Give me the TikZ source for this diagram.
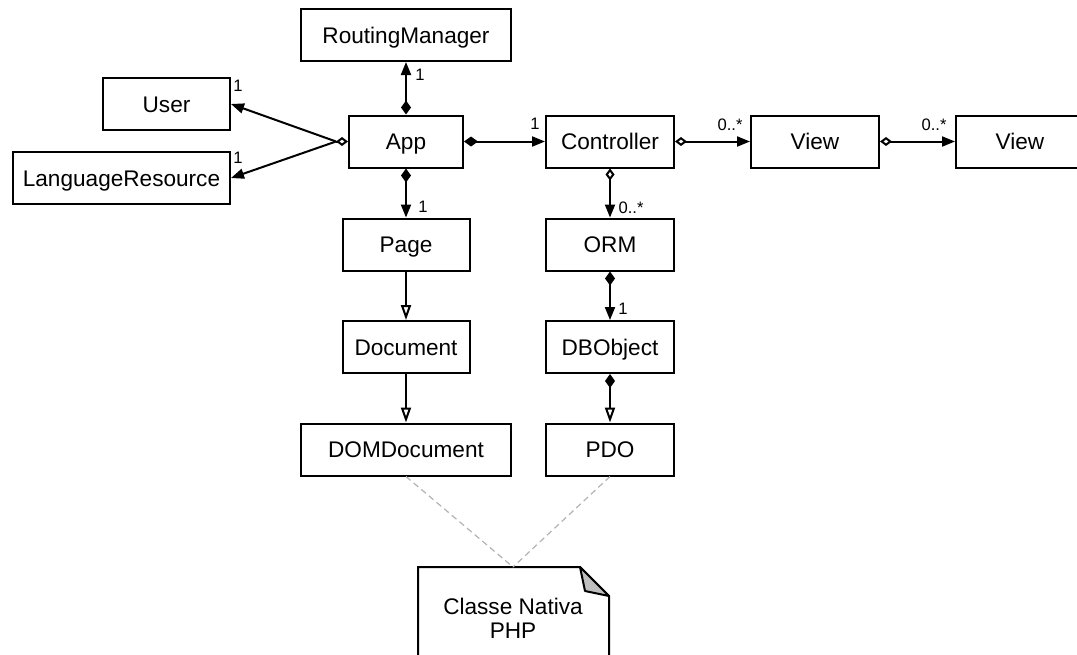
\documentclass[tikz,border=0pt]{standalone}
\usepackage{fontspec}
\setmainfont{Liberation Sans}
\usetikzlibrary{arrows.meta}

\begin{document}
\begin{tikzpicture}[
          x=0.5pt,y=-0.5pt,
          cls/.style={draw,line width=1pt,minimum height=26pt,inner sep=0pt,text height=8pt,text depth=0pt,font=\fontsize{11.3}{13}\selectfont},
          mult/.style={inner sep=0pt,font=\fontsize{8.3}{9}\selectfont},
          compo/.style={line width=1pt,{Diamond[length=7pt,width=5pt]}-{Triangle[length=6.5pt,width=5pt]}},
          aggr/.style={line width=1pt,{Diamond[open,length=6pt,width=4.5pt]}-{Triangle[length=6.5pt,width=5pt]}},
          assoc/.style={line width=1pt,-{Triangle[length=6.5pt,width=5pt]}},
          gener/.style={line width=1pt,-{Triangle[open,length=7.5pt,width=5pt]}},
          compgen/.style={line width=1pt,{Diamond[length=7pt,width=5pt]}-{Triangle[open,length=7.5pt,width=5pt]}},
          anchorline/.style={dashed,dash pattern=on 3pt off 2pt,draw=black!30,line width=0.6pt}
        ]
        \clip (0,0) rectangle (1077,654);
        \useasboundingbox (0,0) rectangle (1077,654);
        % classes
        \node[cls,minimum width=105pt] (routing) at (406,35) {RoutingManager};
        \node[cls,minimum width=63.5pt] (user) at (166.5,104) {User};
        \node[cls,minimum width=108.5pt] (lang) at (121.5,178) {LanguageResource};
        \node[cls,minimum width=57pt] (app) at (406,141.5) {App};
        \node[cls,minimum width=64pt] (ctrl) at (610,141.5) {Controller};
        \node[cls,minimum width=64pt] (view1) at (815,141.5) {View};
        \node[cls,minimum width=64pt] (view2) at (1020,141.5) {View};
        \node[cls,minimum width=63.5pt] (page) at (406,244.5) {Page};
        \node[cls,minimum width=64pt] (orm) at (610,244.5) {ORM};
        \node[cls,minimum width=63.5pt] (doc) at (406,347) {Document};
        \node[cls,minimum width=64pt] (dbobj) at (610,347) {DBObject};
        \node[cls,minimum width=105pt] (domdoc) at (406,449.5) {DOMDocument};
        \node[cls,minimum width=64pt] (pdo) at (610,449.5) {PDO};
        % note
        \node[align=center,inner sep=0pt,font=\fontsize{11.3}{12}\selectfont] (note) at (513,618) {Classe Nativa\\PHP};
        \coordinate (notetop) at (513,567);
        \draw[line width=1pt] (418,567) -- (580,567) -- (609,596) -- (609,680) -- (418,680) -- cycle;
        \draw[line width=1pt,fill=black!25,line join=round] (580,567) -- (585,591) -- (609,596) -- cycle;
        \draw[anchorline] (domdoc.south) -- (notetop);
        \draw[anchorline] (pdo.south) -- (notetop);
        % associations
        \draw[compo] (app) -- (routing);
        \coordinate (appL) at ([xshift=-6pt]app.west);
        \draw[line width=1pt,-{Diamond[open,length=6pt,width=4.5pt]}] (appL) -- (app.west);
        \draw[assoc] (appL) -- (user.east);
        \draw[assoc] (appL) -- (lang.east);
        \draw[compo] (app) -- (ctrl);
        \draw[aggr] (ctrl) -- (view1);
        \draw[aggr] (view1) -- (view2);
        \draw[compo] (app) -- (page);
        \draw[aggr] (ctrl) -- (orm);
        \draw[compo] (orm) -- (dbobj);
        \draw[gener] (page) -- (doc);
        \draw[gener] (doc) -- (domdoc);
        \draw[compgen] (dbobj) -- (pdo);
        % multiplicities
        \node[mult] (mRouting) at (420,75) {1};
        \node[mult] (mUser) at (238,86) {1};
        \node[mult] (mLang) at (238,158) {1};
        \node[mult] (mCtrl) at (535,124) {1};
        \node[mult] (mView1) at (730,125) {0..*};
        \node[mult] (mView2) at (934,125) {0..*};
        \node[mult] (mPage) at (423,207) {1};
        \node[mult] (mOrm) at (631,208) {0..*};
        \node[mult] (mDbobj) at (623,309) {1};
      \end{tikzpicture}
\end{document}
